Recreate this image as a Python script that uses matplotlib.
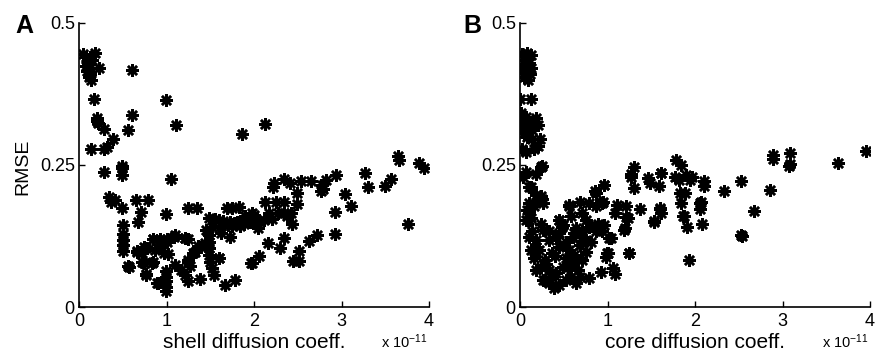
import matplotlib
matplotlib.use("Agg")
import matplotlib.pyplot as plt
import numpy as np

plt.rcParams['font.family'] = ['Liberation Sans', 'DejaVu Sans']
plt.rcParams['mathtext.default'] = 'regular'

# x values in units of 1e-11
shell_x = [0.08, 0.12, 0.15, 0.10, 0.08, 0.12, 0.09, 0.13, 0.11, 0.14, 0.10, 0.05, 0.18,
           0.23, 0.60, 0.175, 0.99, 0.20, 0.21, 0.22, 0.60, 0.29, 0.56, 1.11, 1.86, 0.39,
           0.14, 0.29, 0.32, 0.49, 0.28, 2.12, 0.49, 0.49, 1.05, 0.34, 0.36, 0.41, 0.49,
           0.65, 0.79, 0.71, 0.67, 0.99, 1.25, 1.35, 1.69, 1.83, 1.75, 1.48, 1.60, 1.72,
           1.84, 1.93, 1.98, 1.75, 1.84, 0.50, 0.50, 0.50, 0.50, 0.50, 0.56, 0.57, 0.66,
           0.74, 0.84, 0.87, 0.94, 1.00, 1.02, 0.72, 0.84, 0.77, 0.89, 0.99, 0.99, 0.99,
           0.99, 0.99, 1.10, 1.21, 1.10, 1.16, 1.21, 1.25, 1.25, 1.33, 1.39, 1.44, 1.38,
           1.48, 1.48, 1.48, 1.48, 1.50, 1.52, 1.54, 1.60, 1.67, 1.78, 1.62, 1.73, 1.96,
           3.65, 3.66, 3.89, 3.94, 2.23, 2.22, 2.34, 2.41, 2.54, 2.65, 2.49, 2.78, 2.79,
           2.82, 2.77, 2.94, 3.04, 3.27, 3.30, 3.50, 3.56, 3.11, 2.13, 2.25, 2.34, 2.49,
           2.00, 2.02, 2.04, 2.11, 2.17, 2.27, 2.34, 2.42, 2.43, 2.93, 3.76, 2.16, 2.34,
           2.30, 2.51, 2.45, 2.51, 2.63, 2.72, 2.92, 2.06, 1.98, 1.55, 1.65, 1.78, 1.88,
           1.97, 2.05, 1.70, 1.62, 1.52, 1.45, 1.60, 1.36, 1.30, 1.25, 1.27, 1.21, 1.24,
           1.08, 0.84, 0.77, 0.72, 0.66, 0.91, 0.97, 1.00, 0.92, 0.83, 0.74, 0.76, 0.90,
           1.80, 1.90, 2.20, 2.38]
shell_rmse = [0.440, 0.440, 0.435, 0.430, 0.425, 0.420, 0.415, 0.410, 0.405, 0.400, 0.435, 0.445, 0.447,
              0.420, 0.418, 0.366, 0.364, 0.333, 0.328, 0.324, 0.338, 0.313, 0.312, 0.320, 0.305, 0.295,
              0.278, 0.278, 0.281, 0.248, 0.238, 0.322, 0.244, 0.232, 0.225, 0.194, 0.185, 0.188, 0.175,
              0.188, 0.188, 0.168, 0.150, 0.163, 0.175, 0.175, 0.175, 0.176, 0.174, 0.157, 0.153, 0.150,
              0.148, 0.150, 0.165, 0.143, 0.142, 0.144, 0.128, 0.118, 0.109, 0.099, 0.073, 0.071, 0.096,
              0.106, 0.120, 0.100, 0.106, 0.114, 0.093, 0.080, 0.079, 0.058, 0.043, 0.063, 0.053, 0.045,
              0.036, 0.028, 0.126, 0.121, 0.074, 0.065, 0.056, 0.045, 0.080, 0.096, 0.106, 0.112, 0.049,
              0.127, 0.115, 0.103, 0.091, 0.080, 0.068, 0.056, 0.086, 0.039, 0.048, 0.130, 0.124, 0.077,
              0.265, 0.259, 0.254, 0.245, 0.218, 0.212, 0.225, 0.219, 0.221, 0.221, 0.201, 0.215, 0.207,
              0.224, 0.205, 0.233, 0.199, 0.236, 0.211, 0.213, 0.225, 0.178, 0.184, 0.185, 0.184, 0.181,
              0.162, 0.147, 0.139, 0.153, 0.165, 0.165, 0.165, 0.165, 0.146, 0.168, 0.147, 0.112, 0.121,
              0.103, 0.099, 0.081, 0.081, 0.117, 0.127, 0.128, 0.089, 0.077, 0.155, 0.152, 0.148, 0.146,
              0.150, 0.152, 0.145, 0.143, 0.140, 0.135, 0.086, 0.107, 0.095, 0.083, 0.072, 0.121, 0.120,
              0.123, 0.120, 0.104, 0.095, 0.098, 0.104, 0.095, 0.119, 0.119, 0.077, 0.077, 0.057, 0.043,
              0.150, 0.160, 0.155, 0.160]

core_x = [0.02, 0.08, 0.12, 0.05, 0.10, 0.07, 0.12, 0.03, 0.08, 0.11, 0.04, 0.09, 0.00, 0.12,
          0.01, 0.01, 0.03, 0.07, 0.12, 0.18, 0.20, 0.14, 0.05, 0.08, 0.10, 0.23, 0.02, 0.07,
          0.16, 0.24, 0.18, 0.07, 0.03, 1.30, 1.27, 1.78, 1.84, 1.61, 1.46, 1.77, 1.90, 0.10,
          0.18, 0.22, 0.26, 0.16, 0.10, 0.07, 0.12, 0.24, 0.96, 0.87, 0.56, 0.69, 0.79, 0.87,
          0.95, 0.45, 0.71, 0.75, 0.79, 0.64, 0.60, 0.71, 0.81, 0.89, 0.96, 0.94, 0.87, 1.02,
          0.99, 0.98, 0.93, 1.06, 1.09, 1.25, 1.11, 1.09, 1.21, 1.20, 1.37, 1.60, 1.61, 1.53,
          1.27, 1.30, 1.49, 1.59, 1.61, 1.82, 1.94, 1.89, 1.84, 1.87, 1.91, 1.93, 0.14, 0.18,
          0.12, 0.22, 0.16, 0.24, 0.18, 0.26, 0.33, 0.39, 0.45, 0.52, 0.41, 0.33, 0.29, 0.37,
          0.45, 0.52, 0.56, 0.52, 0.49, 0.60, 0.66, 0.69, 0.64, 0.71, 0.75, 0.68, 0.75, 0.79,
          0.41, 0.33, 0.33, 0.26, 0.18, 0.45, 0.10, 0.29, 0.37, 0.58, 0.62, 0.81, 0.71, 0.62,
          0.49, 2.89, 2.89, 3.09, 3.09, 3.07, 3.63, 3.95, 1.96, 2.10, 2.10, 2.33, 2.52, 2.86,
          2.07, 2.06, 2.67, 2.08, 2.53, 2.54, 1.21, 1.23, 1.19, 1.04, 1.00, 1.25, 1.53, 1.60,
          1.83, 1.86, 2.06, 0.56, 0.45, 0.25, 0.24, 0.10, 0.08, 0.10, 0.94, 0.96, 0.86, 0.14,
          0.20, 0.25, 0.12, 0.30, 0.35, 0.40, 0.55, 0.62, 0.68, 0.48, 0.58]
core_rmse = [0.445, 0.447, 0.443, 0.435, 0.430, 0.425, 0.420, 0.420, 0.413, 0.410, 0.405, 0.400, 0.366, 0.367,
             0.341, 0.329, 0.317, 0.335, 0.323, 0.332, 0.320, 0.312, 0.306, 0.300, 0.323, 0.295, 0.279, 0.273,
             0.279, 0.247, 0.235, 0.238, 0.229, 0.247, 0.235, 0.259, 0.250, 0.236, 0.227, 0.229, 0.232, 0.212,
             0.197, 0.188, 0.183, 0.177, 0.165, 0.153, 0.156, 0.147, 0.215, 0.200, 0.180, 0.185, 0.183, 0.177,
             0.184, 0.153, 0.165, 0.153, 0.141, 0.139, 0.124, 0.124, 0.144, 0.147, 0.144, 0.133, 0.133, 0.121,
             0.095, 0.088, 0.062, 0.068, 0.058, 0.095, 0.180, 0.165, 0.159, 0.139, 0.172, 0.172, 0.166, 0.150,
             0.229, 0.209, 0.218, 0.213, 0.236, 0.224, 0.224, 0.200, 0.183, 0.160, 0.141, 0.082, 0.133, 0.118,
             0.100, 0.100, 0.086, 0.071, 0.065, 0.048, 0.042, 0.033, 0.039, 0.048, 0.059, 0.065, 0.083, 0.095,
             0.106, 0.115, 0.100, 0.086, 0.071, 0.074, 0.065, 0.053, 0.042, 0.083, 0.097, 0.109, 0.118, 0.051,
             0.124, 0.118, 0.133, 0.136, 0.106, 0.130, 0.124, 0.048, 0.053, 0.053, 0.092, 0.115, 0.133, 0.130,
             0.144, 0.268, 0.260, 0.271, 0.252, 0.248, 0.254, 0.275, 0.229, 0.221, 0.213, 0.205, 0.221, 0.206,
             0.184, 0.172, 0.169, 0.147, 0.127, 0.125, 0.177, 0.157, 0.136, 0.121, 0.095, 0.095, 0.151, 0.174,
             0.201, 0.161, 0.183, 0.177, 0.154, 0.190, 0.195, 0.183, 0.171, 0.154, 0.183, 0.215, 0.204, 0.295,
             0.283, 0.248, 0.212, 0.075, 0.060, 0.090, 0.070, 0.085, 0.110, 0.140, 0.160]

panels = [
    (shell_x, shell_rmse, 'shell diffusion coeff.', 'A', 79, 15),
    (core_x, core_rmse, 'core diffusion coeff.', 'B', 520, 463),
]

W, H = 882, 354
fig = plt.figure(figsize=(W / 100, H / 100), dpi=100)

for xs, ys, xlab, letter, left_px, letter_px in panels:
    ax = fig.add_axes([left_px / W, (H - 307) / H, 350 / W, 284 / H])
    ax.plot(xs, ys, linestyle='none', marker=(8, 2, 0), markersize=9,
            markeredgewidth=1.8, color='black')
    ax.set_xlim(0, 4)
    ax.set_ylim(0, 0.5)
    ax.set_xticks([0, 1, 2, 3, 4])
    ax.set_xticklabels(['0', '1', '2', '3', '4'])
    ax.set_yticks([0, 0.25, 0.5])
    ax.set_yticklabels(['0', '0.25', '0.5'])
    ax.tick_params(direction='in', length=4, width=1, labelsize=13, pad=3)
    ax.tick_params(axis='x', pad=4)
    for s in ['top', 'right']:
        ax.spines[s].set_visible(False)
    for s in ['left', 'bottom']:
        ax.spines[s].set_linewidth(1.2)
    ax.patch.set_visible(False)

    cx = (left_px + 175) / W
    fig.text(cx, 1 - 343 / H, xlab, ha='center', va='center', fontsize=15)
    fig.text((left_px + 349) / W, 1 - 348 / H, r'x 10$^{-11}$', ha='right',
             va='baseline', fontsize=10.5)
    fig.text(letter_px / W, 1 - 33 / H, letter, fontsize=18, fontweight='bold',
             va='baseline', ha='left')

fig.text(23 / W, 1 - 167 / H, 'RMSE', rotation=90, ha='center', va='center', fontsize=14)

fig.savefig('out.png', dpi=100)
